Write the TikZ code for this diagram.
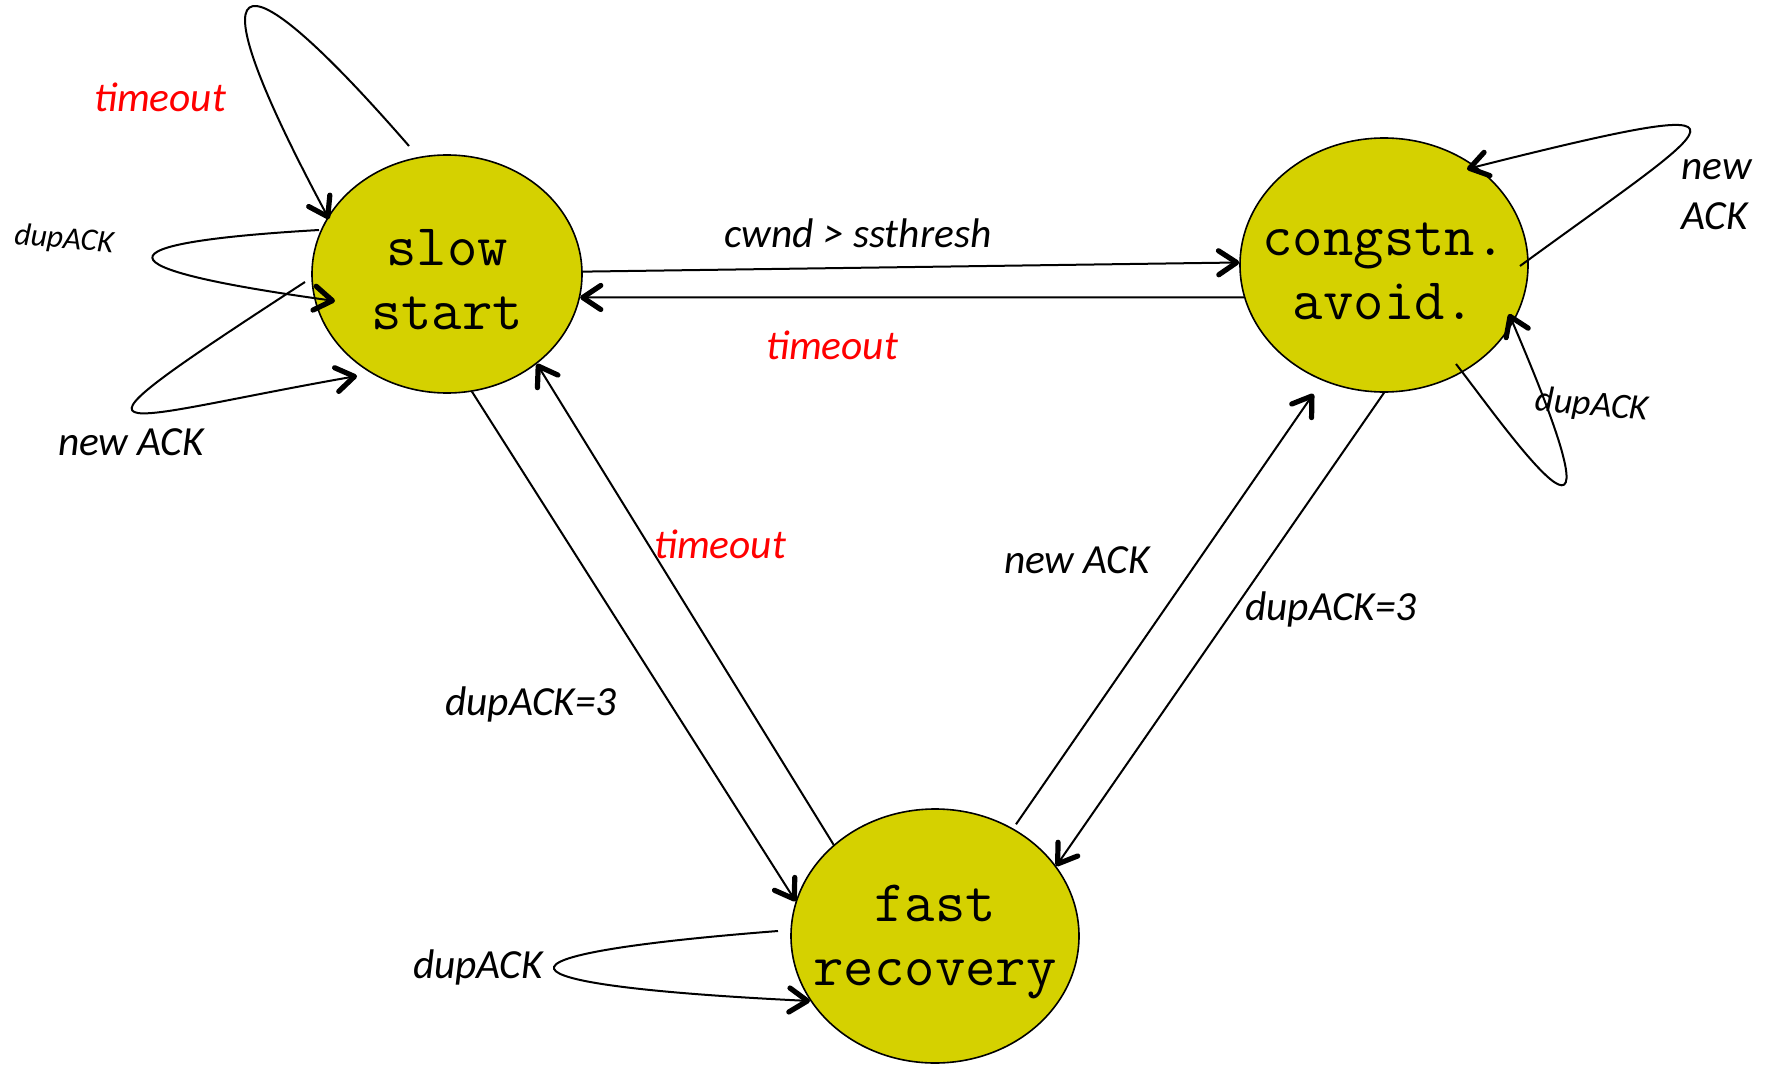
\documentclass[tikz,border=0pt]{standalone}
\usepackage{fontspec}
\setmainfont{Carlito}
\usetikzlibrary{arrows.meta,shapes.geometric}
\definecolor{stfill}{RGB}{213,209,0}
\definecolor{tored}{RGB}{255,0,0}
\begin{document}
\begin{tikzpicture}[x=0.5pt,y=-0.5pt,
  state/.style={ellipse,draw,line width=0.8pt,fill=stfill,inner sep=0pt},
  statetext/.style={font=\ttfamily\fontsize{29.5}{32}\selectfont,align=center,inner sep=0pt,yshift=-3pt},
  lab/.style={font=\itshape\fontsize{20.7}{25}\selectfont,inner sep=0pt},
  redlab/.style={lab,text=tored},
  edge/.style={line width=1pt,-{Straight Barb[length=9pt,width=12pt,line width=2.6pt,round]}}]
\useasboundingbox (0,0) rectangle (1767,1065);

% states
\node[state,minimum width=135pt,minimum height=119pt,
  label={[statetext]center:{slow\\start}}] (ss) at (447,274) {};
\node[state,minimum width=144pt,minimum height=127pt,
  label={[statetext]center:{congstn.\\avoid.}}] (ca) at (1384,265) {};
\node[state,minimum width=144pt,minimum height=127pt,
  label={[statetext]center:{fast\\recovery}}] (fr) at (935,936) {};

% loop end points
\coordinate (ssTa) at (409,146);
\coordinate (ssTb) at (329,219);
\coordinate (ssDa) at (319,230);
\coordinate (ssDb) at (335,301);
\coordinate (ssNa) at (305,282);
\coordinate (ssNb) at (357,376);
\coordinate (caNa) at (1520,266);
\coordinate (caNb) at (1467,169);
\coordinate (caDa) at (1456,364);
\coordinate (caDb) at (1509,314);
\coordinate (frDa) at (778,931);
\coordinate (frDb) at (810,1001);

% transitions between states
\draw[edge] (ss.1) -- (ca.179);
\draw[edge] (ca.193) -- (ss.350);
\draw[edge] (ss.282) -- (fr.166);
\draw[edge] (fr.138) -- (ss.315);
\draw[edge,shorten <=2.5pt,shorten >=8pt] (fr.54) -- (ca.242);
\draw[edge] (ca.270) -- (fr.30);

% self loops
\draw[edge] (ssTa) .. controls (230,-60) and (190,-40) .. (ssTb);
\draw[edge] (ssDa) .. controls (95,243) and (95,268) .. (ssDb);
\draw[edge] (ssNa) .. controls (33,459) and (106,420) .. (ssNb);
\draw[edge] (caNa) .. controls (1721,119) and (1789,88) .. (caNb);
\draw[edge] (caDa) .. controls (1500,420) and (1645,630) .. (caDb);
\draw[edge] (frDa) .. controls (470,955) and (480,985) .. (frDb);

% labels
\node[redlab] (l1) at (160,97) {timeout};
\node[lab,font=\itshape\fontsize{15.8}{19}\selectfont,rotate=-5] (l2) at (64,240) {dupACK};
\node[lab] (l3) at (131,442) {new ACK};
\node[lab] (l4) at (858,233) {cwnd > ssthresh};
\node[redlab] (l5) at (832,345) {timeout};
\node[redlab] (l6) at (720,544) {timeout};
\node[lab] (l7) at (531,704) {dupACK=3};
\node[lab] (l8) at (1077,560) {new ACK};
\node[lab] (l9) at (1331,609) {dupACK=3};
\node[lab,align=left,anchor=west] (l10) at (1681,195) {new\\ACK};
\node[lab,font=\itshape\fontsize{18}{22}\selectfont,rotate=-5] (l11) at (1592,406) {dupACK};
\node[lab] (l12) at (478,967) {dupACK};
\end{tikzpicture}
\end{document}
